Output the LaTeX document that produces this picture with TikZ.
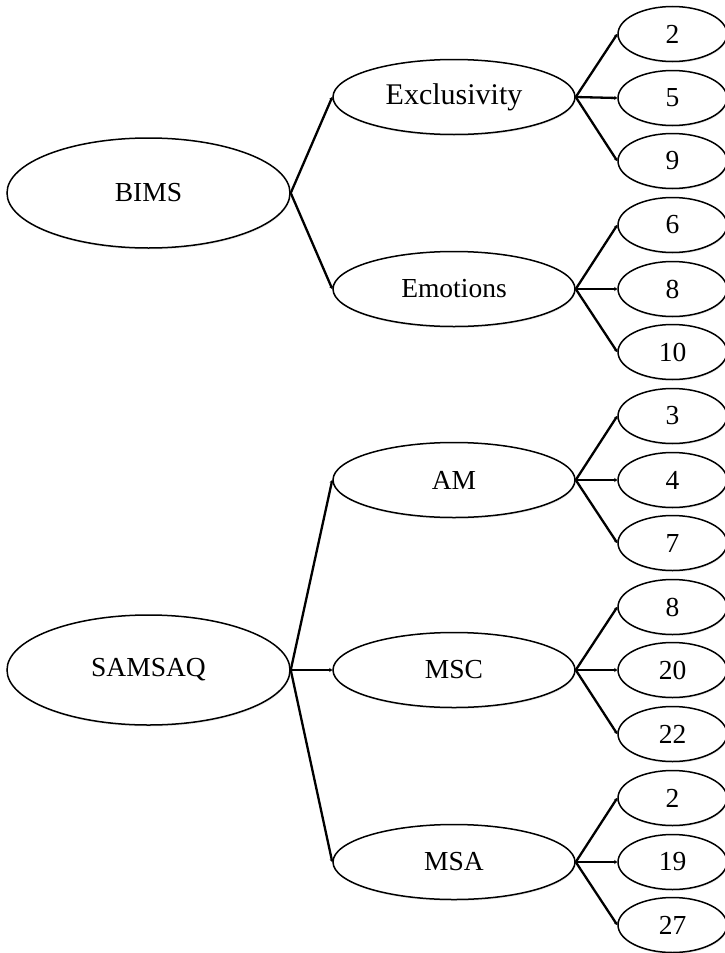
\documentclass[tikz,border=0pt]{standalone}
\usepackage{fontspec}
\setmainfont{Liberation Serif}
\usetikzlibrary{shapes.geometric,arrows.meta,shadows}
\begin{document}
\begin{tikzpicture}[x=1pt,y=-1pt,
  base/.style={ellipse,draw,line width=1.5pt,fill=white,inner sep=0pt,
    font=\fontsize{27.5}{30}\selectfont,
    drop shadow={shadow xshift=0.6pt,shadow yshift=-1.5pt,opacity=0.18}},
  big/.style={base,minimum width=283pt,minimum height=110pt},
  mid/.style={base,minimum width=242pt,minimum height=75pt},
  leaf/.style={base,minimum width=109pt,minimum height=55pt},
  link/.style={line width=2.3pt,-{Stealth[length=3pt,width=4pt]}}]
\useasboundingbox (0,0) rectangle (725,953);
\clip (0,0) rectangle (725,953);
% BIMS
\node[big] (bims) at (148.5,193) {BIMS};
\node[mid,font=\fontsize{30}{33}\selectfont] (exc) at (454,97) {Exclusivity};
\node[mid] (emo) at (454,289) {Emotions};
\node[leaf] (e2) at (672.5,34) {2};
\node[leaf] (e5) at (672.5,98) {5};
\node[leaf] (e9) at (672.5,161) {9};
\node[leaf] (m6) at (672.5,225) {6};
\node[leaf] (m8) at (672.5,289) {8};
\node[leaf] (m10) at (672.5,352) {10};
% SAMSAQ
\node[big] (sam) at (148.5,670) {SAMSAQ};
\node[mid] (am) at (454,480) {AM};
\node[mid] (msc) at (454,670) {MSC};
\node[mid] (msa) at (454,862) {MSA};
\node[leaf] (a3) at (672.5,416) {3};
\node[leaf] (a4) at (672.5,480) {4};
\node[leaf] (a7) at (672.5,543) {7};
\node[leaf] (c8) at (672.5,607) {8};
\node[leaf] (c20) at (672.5,670) {20};
\node[leaf] (c22) at (672.5,734) {22};
\node[leaf] (s2) at (672.5,798) {2};
\node[leaf] (s19) at (672.5,862) {19};
\node[leaf] (s27) at (672.5,925) {27};
% connectors
\draw[link] (bims.east) -- (exc.west);
\draw[link] (bims.east) -- (emo.west);
\foreach \t in {e2,e5,e9} \draw[link] (exc.east) -- (\t.west);
\foreach \t in {m6,m8,m10} \draw[link] (emo.east) -- (\t.west);
\draw[link] (sam.east) -- (am.west);
\draw[link] (sam.east) -- (msc.west);
\draw[link] (sam.east) -- (msa.west);
\foreach \t in {a3,a4,a7} \draw[link] (am.east) -- (\t.west);
\foreach \t in {c8,c20,c22} \draw[link] (msc.east) -- (\t.west);
\foreach \t in {s2,s19,s27} \draw[link] (msa.east) -- (\t.west);
\end{tikzpicture}
\end{document}
